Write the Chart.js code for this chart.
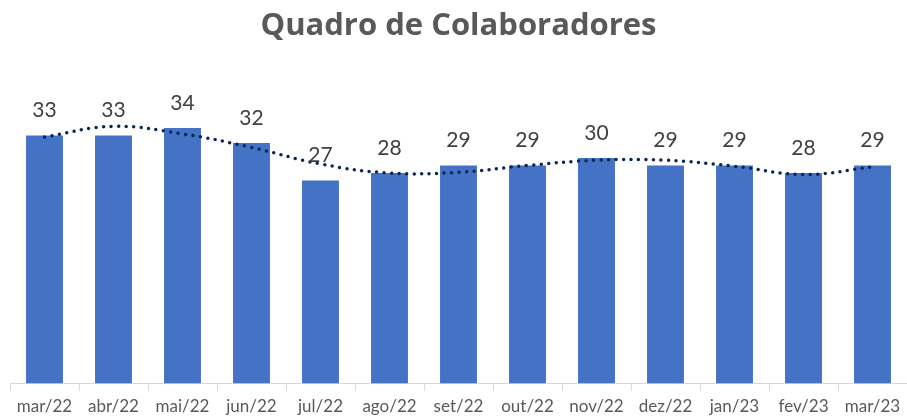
<!DOCTYPE html>
<html>
<head>
<meta charset="utf-8">
<script src="https://cdn.jsdelivr.net/npm/chart.js@4"></script>
<style>
  html, body { margin: 0; padding: 0; background: #fff; }
  #wrap { width: 907px; height: 418px; }
</style>
</head>
<body>
<div id="wrap"><canvas id="colabChart"></canvas></div>
<script>
const months = ['mar/22', 'abr/22', 'mai/22', 'jun/22', 'jul/22', 'ago/22', 'set/22',
  'out/22', 'nov/22', 'dez/22', 'jan/23', 'fev/23', 'mar/23']
const headcount = [33, 33, 34, 32, 27, 28, 29, 29, 30, 29, 29, 28, 29]
// trend line (Excel polynomial)
const trend = [32.8, 34.2, 33.2, 31.4, 29.2, 28.0, 28.1, 29.0, 29.7, 29.7, 28.9, 27.8, 28.8]

// labels above the bars
const barLabels = {
  id: 'barLabels',
  afterDatasetsDraw(chart) {
    const meta = chart.getDatasetMeta(0)
    const c = chart.ctx
    c.save()
    c.font = '21px Lato, "Open Sans", sans-serif'
    c.fillStyle = '#404040'
    c.textAlign = 'center'
    c.textBaseline = 'middle'
    meta.data.forEach((bar, i) => {
      c.fillText(headcount[i], bar.x, bar.y - 25)
    })
    c.restore()
  }
}

new Chart(document.getElementById('colabChart'), {
  data: {
    labels: months,
    datasets: [
      {
        type: 'bar',
        label: 'Colaboradores',
        data: headcount,
        backgroundColor: '#4472C4',
        barPercentage: 0.535,
        categoryPercentage: 1,
        order: 1,
      },
      {
        type: 'line',
        label: 'Tendência',
        data: trend,
        borderColor: '#0b2557',
        borderWidth: 3.5,
        borderDash: [0, 7.5],
        borderCapStyle: 'round',
        pointRadius: 0,
        tension: 0.4,
        fill: false,
        order: 0,
      },
    ],
  },
  options: {
    responsive: true,
    maintainAspectRatio: false,
    animation: false,
    layout: { padding: { left: 10, right: 0, top: 0, bottom: -5 } },
    plugins: {
      legend: { display: false },
      tooltip: { enabled: false },
      title: {
        display: true,
        text: 'Quadro de Colaboradores',
        color: '#595959',
        font: { family: '"Open Sans", Lato, sans-serif', size: 31, weight: 'bold' },
        padding: { top: 8, bottom: 15 },
      },
    },
    scales: {
      x: {
        offset: true,
        grid: { display: true, drawOnChartArea: false, drawTicks: true, tickLength: 7, color: '#d9d9d9', offset: true },
        border: { display: true, color: '#d9d9d9', width: 1 },
        ticks: {
          color: '#595959',
          font: { family: 'Lato, "Open Sans", sans-serif', size: 17 },
          padding: 6,
          maxRotation: 0,
          autoSkip: false,
        },
      },
      y: {
        display: false,
        min: 0,
        max: 43,
      },
    },
  },
  plugins: [barLabels],
})
</script>
</body>
</html>
